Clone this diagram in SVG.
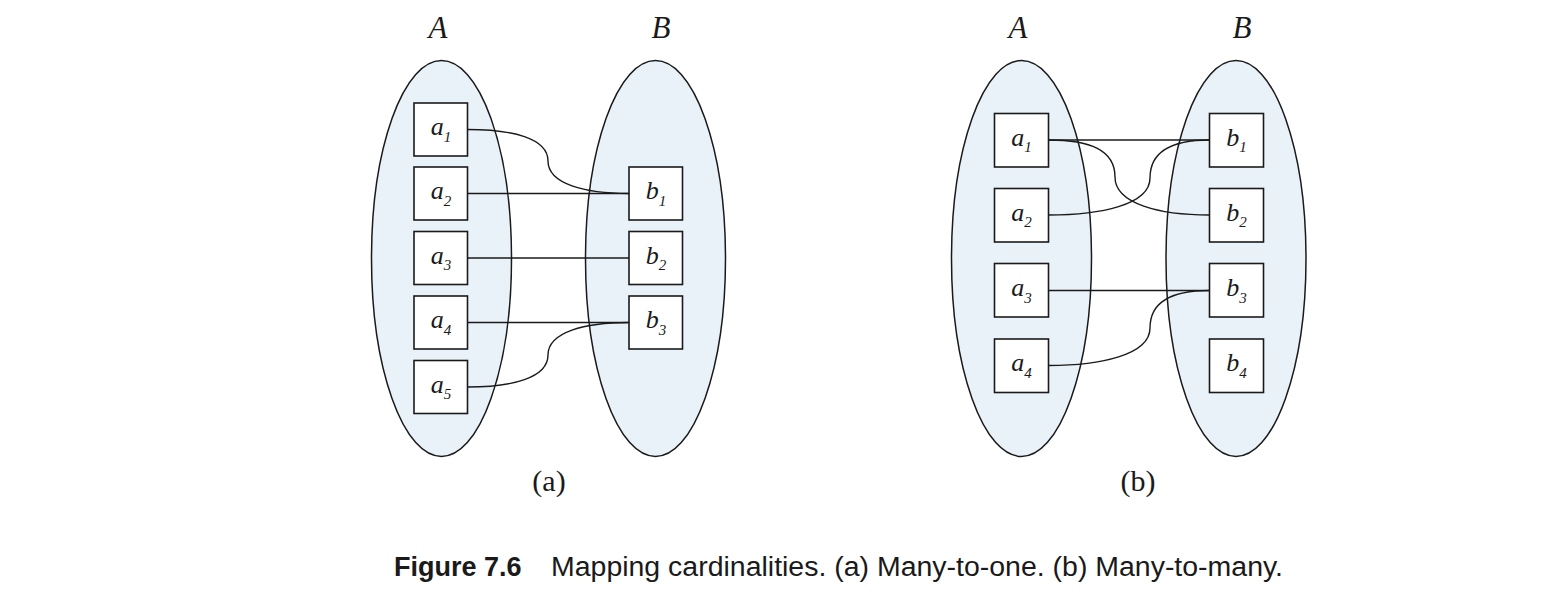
<svg xmlns="http://www.w3.org/2000/svg" width="1543" height="611" viewBox="0 0 1543 611">
<style>
.set{fill:#eaf2f9;stroke:#1a1a1a;stroke-width:1.5}
.box{fill:#ffffff;stroke:#1a1a1a;stroke-width:1.6}
.lbl{font-family:"Liberation Serif",serif;font-style:italic;font-size:26px;fill:#1a1a1a}
.sub{font-size:15px}
.set-name{font-family:"Liberation Serif",serif;font-style:italic;font-size:31px;fill:#1a1a1a}
.panel{font-family:"Liberation Serif",serif;font-size:30px;fill:#1a1a1a}
.conn{fill:none;stroke:#1a1a1a;stroke-width:1.4}
.cap{font-family:"Liberation Sans",Arial,sans-serif;font-size:27px;fill:#1a1a1a}
</style>
<rect width="1543" height="611" fill="#ffffff"/>
<!-- Panel (a) -->
<g id="setA_a"><ellipse class="set" cx="441.5" cy="258.5" rx="70" ry="198"/><text class="set-name" x="438" y="38" text-anchor="middle">A</text></g>
<g id="setB_a"><ellipse class="set" cx="655.5" cy="258.5" rx="70" ry="198"/><text class="set-name" x="661" y="38" text-anchor="middle">B</text></g>
<g id="connectors_a">
<path class="conn" d="M467.5,129.5 C512,129.5 548,138 548,161 C548,184 585,193.5 629,193.5"/>
<path class="conn" d="M467.5,193.5 H629"/>
<path class="conn" d="M467.5,258 H629"/>
<path class="conn" d="M467.5,322.5 H629"/>
<path class="conn" d="M467.5,387 C512,387 548,378 548,355 C548,332 585,322.5 629,322.5"/>
</g>
<g id="a1_a"><rect class="box" x="414" y="103" width="53.5" height="53"/><text class="lbl" x="441" y="135" text-anchor="middle">a<tspan class="sub" dy="6.5">1</tspan></text></g>
<g id="a2_a"><rect class="box" x="414" y="167" width="53.5" height="53"/><text class="lbl" x="441" y="199" text-anchor="middle">a<tspan class="sub" dy="6.5">2</tspan></text></g>
<g id="a3_a"><rect class="box" x="414" y="231.5" width="53.5" height="53"/><text class="lbl" x="441" y="263.5" text-anchor="middle">a<tspan class="sub" dy="6.5">3</tspan></text></g>
<g id="a4_a"><rect class="box" x="414" y="296" width="53.5" height="53"/><text class="lbl" x="441" y="328" text-anchor="middle">a<tspan class="sub" dy="6.5">4</tspan></text></g>
<g id="a5_a"><rect class="box" x="414" y="360.5" width="53.5" height="53"/><text class="lbl" x="441" y="392.5" text-anchor="middle">a<tspan class="sub" dy="6.5">5</tspan></text></g>
<g id="b1_a"><rect class="box" x="629" y="167" width="53.5" height="53"/><text class="lbl" x="656" y="199" text-anchor="middle">b<tspan class="sub" dy="6.5">1</tspan></text></g>
<g id="b2_a"><rect class="box" x="629" y="231.5" width="53.5" height="53"/><text class="lbl" x="656" y="263.5" text-anchor="middle">b<tspan class="sub" dy="6.5">2</tspan></text></g>
<g id="b3_a"><rect class="box" x="629" y="296" width="53.5" height="53"/><text class="lbl" x="656" y="328" text-anchor="middle">b<tspan class="sub" dy="6.5">3</tspan></text></g>
<text class="panel" x="549" y="491" text-anchor="middle">(a)</text>
<!-- Panel (b) -->
<g id="setA_b"><ellipse class="set" cx="1021.5" cy="258.5" rx="70" ry="198"/><text class="set-name" x="1018" y="38" text-anchor="middle">A</text></g>
<g id="setB_b"><ellipse class="set" cx="1236" cy="258.5" rx="70" ry="198"/><text class="set-name" x="1242" y="38" text-anchor="middle">B</text></g>
<g id="connectors_b">
<path class="conn" d="M1048.5,140 H1209.5"/>
<path class="conn" d="M1048.5,140 C1090,140 1115,150 1115,177 C1115,204 1160,215 1209.5,215"/>
<path class="conn" d="M1048.5,215 C1100,215 1150,205 1150,178 C1150,150 1175,140 1209.5,140"/>
<path class="conn" d="M1048.5,290.5 H1209.5"/>
<path class="conn" d="M1048.5,365.5 C1100,365.5 1150,355 1150,328 C1150,300 1175,290.5 1209.5,290.5"/>
</g>
<g id="a1_b"><rect class="box" x="994.5" y="113.5" width="54" height="53.5"/><text class="lbl" x="1021.5" y="145.5" text-anchor="middle">a<tspan class="sub" dy="6.5">1</tspan></text></g>
<g id="a2_b"><rect class="box" x="994.5" y="188.5" width="54" height="53.5"/><text class="lbl" x="1021.5" y="220.5" text-anchor="middle">a<tspan class="sub" dy="6.5">2</tspan></text></g>
<g id="a3_b"><rect class="box" x="994.5" y="263.5" width="54" height="53.5"/><text class="lbl" x="1021.5" y="296" text-anchor="middle">a<tspan class="sub" dy="6.5">3</tspan></text></g>
<g id="a4_b"><rect class="box" x="994.5" y="339" width="54" height="53.5"/><text class="lbl" x="1021.5" y="371" text-anchor="middle">a<tspan class="sub" dy="6.5">4</tspan></text></g>
<g id="b1_b"><rect class="box" x="1209.5" y="113.5" width="54" height="53.5"/><text class="lbl" x="1236.5" y="145.5" text-anchor="middle">b<tspan class="sub" dy="6.5">1</tspan></text></g>
<g id="b2_b"><rect class="box" x="1209.5" y="188.5" width="54" height="53.5"/><text class="lbl" x="1236.5" y="220.5" text-anchor="middle">b<tspan class="sub" dy="6.5">2</tspan></text></g>
<g id="b3_b"><rect class="box" x="1209.5" y="263.5" width="54" height="53.5"/><text class="lbl" x="1236.5" y="296" text-anchor="middle">b<tspan class="sub" dy="6.5">3</tspan></text></g>
<g id="b4_b"><rect class="box" x="1209.5" y="339" width="54" height="53.5"/><text class="lbl" x="1236.5" y="371" text-anchor="middle">b<tspan class="sub" dy="6.5">4</tspan></text></g>
<text class="panel" x="1138" y="491" text-anchor="middle">(b)</text>
<!-- Caption -->
<text class="cap" x="394" y="576" font-weight="bold">Figure 7.6</text>
<text class="cap" x="551" y="576" textLength="732" lengthAdjust="spacingAndGlyphs">Mapping cardinalities. (a) Many-to-one. (b) Many-to-many.</text>
</svg>
